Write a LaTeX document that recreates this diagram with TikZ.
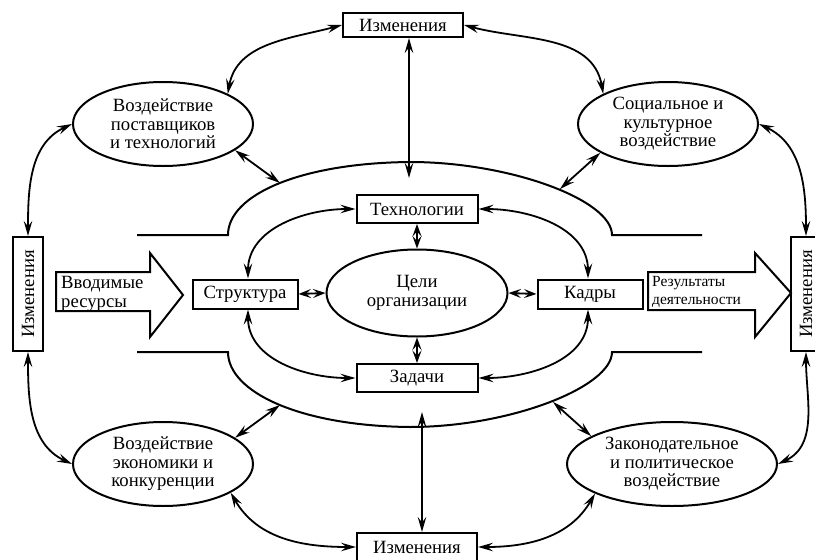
\documentclass[tikz,border=0pt]{standalone}
\usepackage{fontspec}
\setmainfont{Liberation Serif}
\usetikzlibrary{arrows.meta,shapes.geometric}
\begin{document}
\begin{tikzpicture}[x=1pt,y=1pt,
  every node/.style={font=\fontsize{18.7}{18.5}\selectfont},
  box/.style={draw,line width=2pt,rectangle,inner sep=0pt,minimum height=28pt},
  ell/.style={draw,line width=2pt,ellipse,inner sep=0pt,align=center,minimum width=180pt,minimum height=84pt},
  con/.style={line width=1.8pt,{Stealth[length=15pt,width=8.5pt,inset=5.5pt]}-{Stealth[length=15pt,width=8.5pt,inset=5.5pt]}},
  shortcon/.style={line width=1.8pt,{Stealth[length=12.5pt,width=9pt,inset=5pt]}-{Stealth[length=12.5pt,width=9pt,inset=5pt]}},
  outline/.style={line width=2pt},
  bigarrow/.style={draw,line width=2pt,line join=miter},
  txt/.style={anchor=west,align=left,inner sep=0pt}]
\useasboundingbox (0,0) rectangle (815,-560);
\clip (0,0) rectangle (815,-560);

% boxes "Изменения"
\node[box,minimum width=120pt,minimum height=24pt] (chT) at (403,-25) {Изменения};
\node[box,minimum width=120pt,minimum height=28pt] (chB) at (417,-547) {Изменения};
\node[box,minimum width=30pt,minimum height=114pt] (chL) at (28,-294) {\rotatebox{90}{Изменения}};
\node[box,minimum width=30pt,minimum height=114pt] (chR) at (806,-294) {\rotatebox{90}{Изменения}};

% outer ellipses
\node[ell] (e1) at (163,-124) {Воздействие\\поставщиков\\и технологий};
\node[ell] (e2) at (668,-124) {Социальное и\\культурное\\воздействие};
\node[ell] (e3) at (163,-464) {Воздействие\\экономики и\\конкуренции};
\node[ell,minimum width=210pt] (e4) at (672,-464) {Законодательное\\и политическое\\воздействие};

% centre
\node[ell,minimum width=181pt,minimum height=87pt] (goal) at (417,-293) {Цели\\организации};
\node[box,minimum width=121pt] (tech) at (417,-209) {Технологии};
\node[box,minimum width=121pt] (task) at (417,-378) {Задачи};
\node[box,minimum width=105pt,minimum height=29pt] (str) at (245,-294) {Структура};
\node[box,minimum width=105pt,minimum height=29pt] (kad) at (590,-294) {Кадры};

% big block arrows
\draw[bigarrow] (56,-272) -- (150,-272) -- (150,-253) -- (183,-295) -- (150,-337) -- (150,-311) -- (56,-311) -- cycle;
\node[txt] (inres) at (61,-294) {Вводимые\\ресурсы};
\draw[bigarrow] (648,-272) -- (755,-272) -- (755,-253) -- (791,-293) -- (755,-337) -- (755,-310) -- (648,-310) -- cycle;
\node[txt,font=\fontsize{15.5}{17.5}\selectfont] (outres) at (652,-292) {Результаты\\деятельности};

% organisation boundary
\draw[outline] (137,-235) -- (228,-235) .. controls (228,-195) and (300,-163) .. (410,-162)
  .. controls (510,-162) and (612,-200) .. (612,-235) -- (702,-235);
\draw[outline] (137,-352) -- (228,-352) .. controls (228,-392) and (300,-426) .. (410,-427)
  .. controls (510,-427) and (612,-387) .. (612,-352) -- (702,-352);

\coordinate (u1) at (280,-183);
\coordinate (u2) at (560,-189);
\coordinate (l1) at (280,-405);
\coordinate (l2) at (553,-402);
\coordinate (vt) at (409,-178);
\coordinate (vb) at (422,-412);

% outer connectors
\draw[con] (chT.west) to[out=195,in=80] (e1.25);
\draw[con] (chT.east) to[out=-15,in=100] (e2.155);
\draw[con] ([xshift=6pt]chT.south) -- (vt);
\draw[con] (chL.north) to[out=90,in=205] (e1.west);
\draw[con] (chL.south) to[out=-90,in=155] (e3.west);
\draw[con] (e2.east) to[out=-25,in=90] (chR.north);
\draw[con] (chR.south) to[out=-90,in=25] (e4.east);
\draw[con] (e3.-23) to[out=-60,in=180] (chB.west);
\draw[con] (e4.201) to[out=-120,in=0] (chB.east);
\draw[con] (vb) -- ([xshift=5pt]chB.north);
\draw[con] (e1.-20) -- (u1);
\draw[con] (e2.203) -- (u2);
\draw[con] (e3.20) -- (l1);
\draw[con] (e4.161) -- (l2);

% inner connectors
\draw[con] (tech.west) to[out=180,in=90] ([xshift=3pt]str.north);
\draw[con] (tech.east) to[out=0,in=90] ([xshift=-2pt]kad.north);
\draw[con] ([xshift=3pt]str.south) to[out=-90,in=180] (task.west);
\draw[con] ([xshift=-2pt]kad.south) to[out=-90,in=0] (task.east);
\draw[shortcon] (tech.south) -- (goal.north);
\draw[shortcon] (goal.south) -- (task.north);
\draw[shortcon] (str.east) -- (goal.west);
\draw[shortcon] (goal.east) -- (kad.west);
\end{tikzpicture}
\end{document}
